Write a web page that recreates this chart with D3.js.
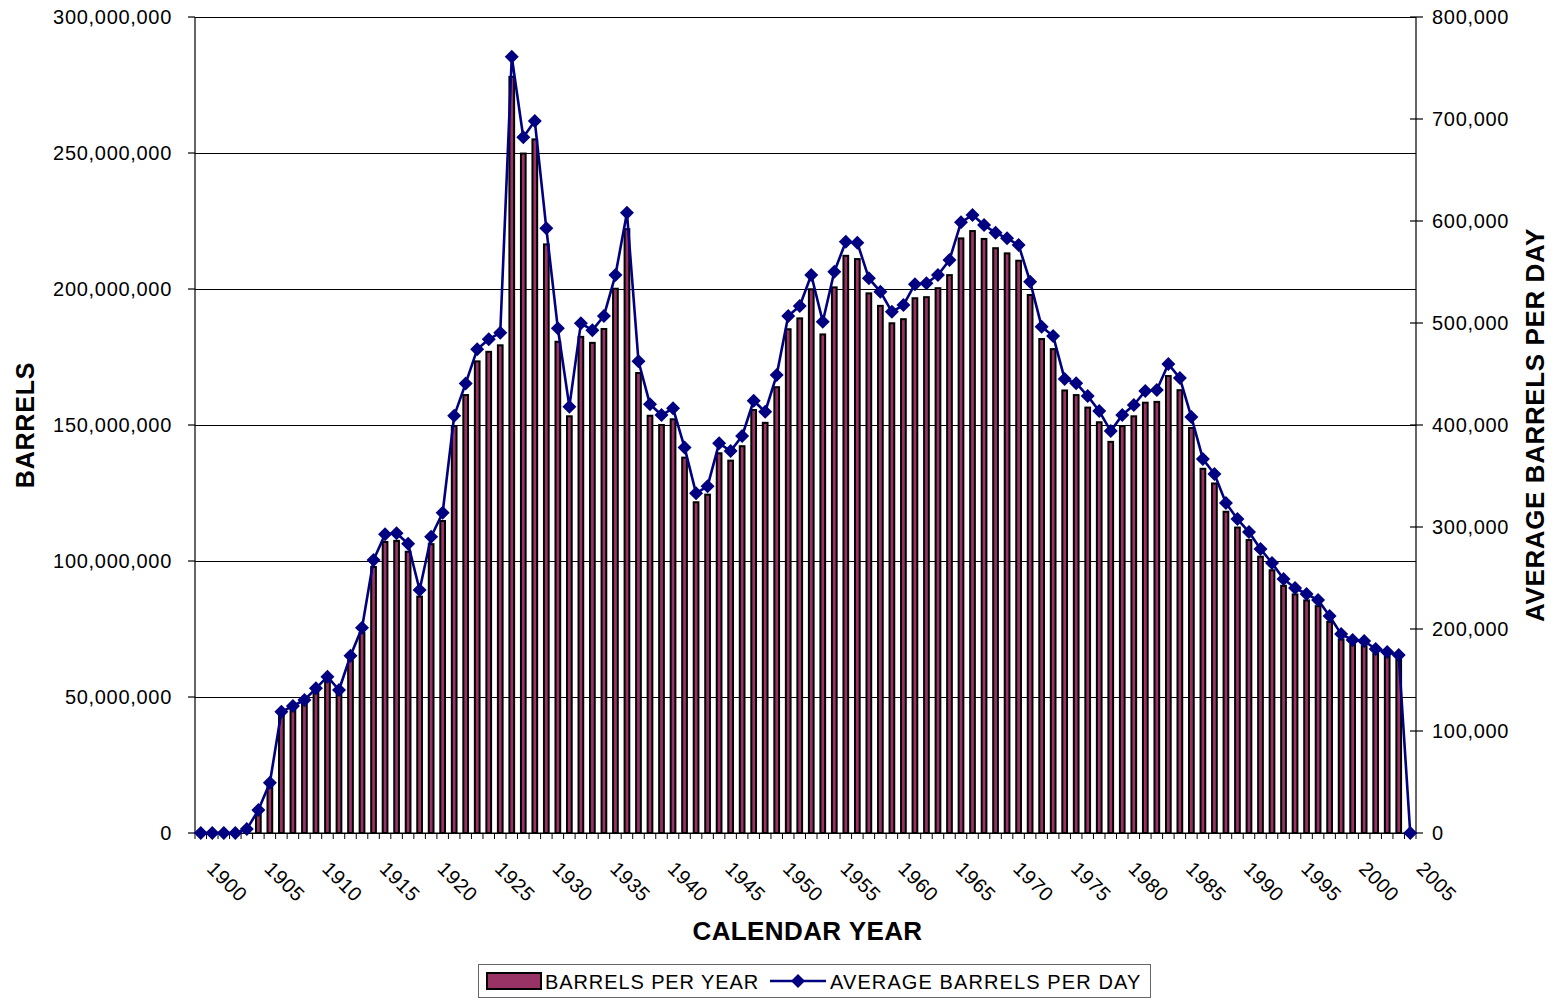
<!DOCTYPE html>
<html>
<head>
<meta charset="utf-8">
<script src="https://cdn.jsdelivr.net/npm/d3@7"></script>
<style>
  html, body { margin: 0; padding: 0; background: #fff; }
  svg { display: block; font-family: "Liberation Sans", Arial, sans-serif; }
</style>
</head>
<body>
<svg id="chart" width="1553" height="999"></svg>
<script>
// ---------------- DATA ----------------
const years = [
  1900,1901,1902,1903,1904,1905,1906,1907,1908,1909,
  1910,1911,1912,1913,1914,1915,1916,1917,1918,1919,
  1920,1921,1922,1923,1924,1925,1926,1927,1928,1929,
  1930,1931,1932,1933,1934,1935,1936,1937,1938,1939,
  1940,1941,1942,1943,1944,1945,1946,1947,1948,1949,
  1950,1951,1952,1953,1954,1955,1956,1957,1958,1959,
  1960,1961,1962,1963,1964,1965,1966,1967,1968,1969,
  1970,1971,1972,1973,1974,1975,1976,1977,1978,1979,
  1980,1981,1982,1983,1984,1985,1986,1987,1988,1989,
  1990,1991,1992,1993,1994,1995,1996,1997,1998,1999,
  2000,2001,2002,2003,2004,2005
];

// Barrels per year, in millions of barrels
const barrelsPerYearM = [
  0,0,0,0,1.4,8.0,17.5,43.2,45.2,47.5,
  51.8,56.0,51.3,63.5,73.5,97.8,107.0,107.4,103.4,86.9,
  106.2,114.7,149.6,161.0,173.4,176.9,179.3,278.0,249.8,255.0,
  216.4,180.6,153.2,182.4,180.2,185.3,200.1,222.0,169.1,153.4,
  150.0,152.1,138.0,121.6,124.4,139.6,136.9,142.2,155.5,150.8,
  163.9,185.2,189.2,199.9,183.3,200.6,212.2,211.0,198.4,193.8,
  187.4,188.9,196.6,197.0,200.3,205.1,218.6,221.3,218.4,215.0,
  213.1,210.4,197.8,181.6,177.9,162.7,161.0,156.4,151.0,143.8,
  149.6,153.2,158.2,158.5,168.0,162.8,148.9,133.9,128.5,118.1,
  112.3,107.7,101.6,96.6,90.9,87.7,85.5,83.4,77.6,71.2,
  69.1,68.7,65.8,64.8,63.7,0
];

// Average barrels per day, in thousands of barrels
const barrelsPerDayK = [
  0,0,0,0,3.8,22.5,49.3,118.8,124.5,130.4,
  141.8,153.3,140.2,173.8,201.3,267.6,292.8,293.8,283.5,238.2,
  290.5,314.0,409.0,440.8,474.2,484.0,490.5,761.0,682.0,698.0,
  592.8,494.8,418.0,499.7,493.0,506.9,547.0,608.0,462.5,420.3,
  409.8,416.3,378.0,333.0,340.0,382.0,374.5,389.2,423.8,413.0,
  449.0,506.9,516.7,547.0,501.3,550.3,579.7,578.7,543.8,530.7,
  511.0,517.6,538.0,539.0,547.0,561.8,598.7,605.9,596.0,588.5,
  583.0,576.5,540.5,496.4,487.3,445.0,441.0,428.4,413.7,394.0,
  409.8,419.6,433.3,434.3,459.8,446.0,407.8,366.7,352.0,323.5,
  307.8,295.0,278.4,264.7,249.0,240.2,234.3,228.4,212.7,195.0,
  189.2,188.2,180.4,177.5,174.5,0
];

const leftTicks  = [0, 50, 100, 150, 200, 250, 300];            // millions
const rightTicks = [0, 100, 200, 300, 400, 500, 600, 700, 800]; // thousands
const yearLabels = [1900,1905,1910,1915,1920,1925,1930,1935,1940,1945,1950,
                    1955,1960,1965,1970,1975,1980,1985,1990,1995,2000,2005];

const seriesNames = ["BARRELS PER YEAR", "AVERAGE BARRELS PER DAY"];
const titles = { left: "BARRELS", right: "AVERAGE BARRELS PER DAY", bottom: "CALENDAR YEAR" };

// ---------------- LAYOUT ----------------
const plot = { left: 195, right: 1416, top: 17, bottom: 833 };
const barColor = "#993366";
const lineColor = "#000080";
const font = 20;

const svg = d3.select("#chart");

const x = d3.scaleBand().domain(years).range([plot.left, plot.right]).paddingInner(0).paddingOuter(0);
const yL = d3.scaleLinear().domain([0, 300]).range([plot.bottom, plot.top]);
const yR = d3.scaleLinear().domain([0, 800]).range([plot.bottom, plot.top]);
const bw = x.bandwidth();
const cx = d => x(d) + bw / 2;

const fmtM = v => d3.format(",")(v * 1e6);
const fmtK = v => d3.format(",")(v * 1e3);

// gridlines
svg.append("g").selectAll("line").data(leftTicks).join("line")
  .attr("x1", plot.left).attr("x2", plot.right)
  .attr("y1", d => Math.round(yL(d)) + 0.5).attr("y2", d => Math.round(yL(d)) + 0.5)
  .attr("stroke", "#000").attr("stroke-width", 1);

// bars
const barW = bw * 0.41;
svg.append("g").selectAll("rect").data(years).join("rect")
  .attr("x", (d) => cx(d) - barW / 2)
  .attr("y", (d, i) => yL(barrelsPerYearM[i]))
  .attr("width", barW)
  .attr("height", (d, i) => plot.bottom - yL(barrelsPerYearM[i]))
  .attr("fill", barColor)
  .attr("stroke", "#000")
  .attr("stroke-width", 2)
  .attr("display", (d, i) => barrelsPerYearM[i] > 0 ? null : "none");

// axes lines
const axisG = svg.append("g").attr("stroke", "#000").attr("stroke-width", 1.2);
axisG.append("line").attr("x1", plot.left).attr("x2", plot.left).attr("y1", plot.top).attr("y2", plot.bottom);
axisG.append("line").attr("x1", plot.right).attr("x2", plot.right).attr("y1", plot.top).attr("y2", plot.bottom);
axisG.append("line").attr("x1", plot.left).attr("x2", plot.right).attr("y1", plot.bottom).attr("y2", plot.bottom);

// left ticks + labels
const lt = svg.append("g");
lt.selectAll("line").data(leftTicks).join("line")
  .attr("x1", plot.left - 7).attr("x2", plot.left)
  .attr("y1", d => yL(d)).attr("y2", d => yL(d))
  .attr("stroke", "#000").attr("stroke-width", 1.2);
lt.selectAll("text").data(leftTicks).join("text")
  .attr("x", plot.left - 23).attr("y", d => yL(d)).attr("dy", "0.36em")
  .attr("text-anchor", "end").attr("font-size", font).attr("letter-spacing", 0.7)
  .text(fmtM);

// right ticks + labels
const rt = svg.append("g");
rt.selectAll("line").data(rightTicks).join("line")
  .attr("x1", plot.right - 6).attr("x2", plot.right + 7)
  .attr("y1", d => yR(d)).attr("y2", d => yR(d))
  .attr("stroke", "#000").attr("stroke-width", 1.2);
rt.selectAll("text").data(rightTicks).join("text")
  .attr("x", plot.right + 16).attr("y", d => yR(d)).attr("dy", "0.36em")
  .attr("text-anchor", "start").attr("font-size", font).attr("letter-spacing", 0.7)
  .text(fmtK);

// bottom category ticks (between categories)
const boundaries = years.map(d => x(d)).concat([plot.right]);
svg.append("g").selectAll("line").data(boundaries).join("line")
  .attr("x1", d => d).attr("x2", d => d)
  .attr("y1", plot.bottom).attr("y2", plot.bottom + 6)
  .attr("stroke", "#000").attr("stroke-width", 1);

// bottom labels rotated 45deg
svg.append("g").selectAll("text").data(yearLabels).join("text")
  .attr("transform", d => `translate(${cx(d) + 5},${plot.bottom + 37}) rotate(45)`)
  .attr("font-size", font).attr("letter-spacing", 0.6)
  .text(d => d);

// line
const pts = years.map((d, i) => [cx(d), yR(barrelsPerDayK[i])]);
svg.append("path")
  .attr("d", d3.line()(pts))
  .attr("fill", "none").attr("stroke", lineColor).attr("stroke-width", 2.6)
  .attr("stroke-linejoin", "round");

const diamond = d3.symbol().type(d3.symbolSquare).size(98)();
svg.append("g").selectAll("path").data(pts).join("path")
  .attr("d", diamond)
  .attr("transform", d => `translate(${d[0]},${d[1]}) rotate(45)`)
  .attr("fill", lineColor);

// axis titles
svg.append("text")
  .attr("transform", `translate(34,${(plot.top + plot.bottom) / 2}) rotate(-90)`)
  .attr("text-anchor", "middle").attr("font-size", 25).attr("font-weight", "bold")
  .attr("letter-spacing", 0.8)
  .text(titles.left);
svg.append("text")
  .attr("transform", `translate(1544,${(plot.top + plot.bottom) / 2}) rotate(-90)`)
  .attr("text-anchor", "middle").attr("font-size", 26).attr("font-weight", "bold")
  .attr("letter-spacing", 0.6)
  .text(titles.right);
svg.append("text")
  .attr("x", (plot.left + plot.right) / 2 + 2).attr("y", 940)
  .attr("text-anchor", "middle").attr("font-size", 26).attr("font-weight", "bold")
  .attr("letter-spacing", 0.4)
  .text(titles.bottom);

// legend
const lg = svg.append("g");
lg.append("rect").attr("x", 478.5).attr("y", 964.5).attr("width", 672).attr("height", 33)
  .attr("fill", "#fff").attr("stroke", "#666").attr("stroke-width", 1);
lg.append("rect").attr("x", 487).attr("y", 973).attr("width", 54).attr("height", 16)
  .attr("fill", barColor).attr("stroke", "#000").attr("stroke-width", 2);
lg.append("text").attr("x", 545).attr("y", 988.5).attr("font-size", font).attr("letter-spacing", 0.9)
  .text(seriesNames[0]);
lg.append("line").attr("x1", 770).attr("x2", 826).attr("y1", 981).attr("y2", 981)
  .attr("stroke", lineColor).attr("stroke-width", 2.6);
lg.append("path").attr("d", diamond).attr("transform", "translate(798,981) rotate(45)").attr("fill", lineColor);
lg.append("text").attr("x", 830).attr("y", 988.5).attr("font-size", font).attr("letter-spacing", 1.1)
  .text(seriesNames[1]);
</script>
</body>
</html>
